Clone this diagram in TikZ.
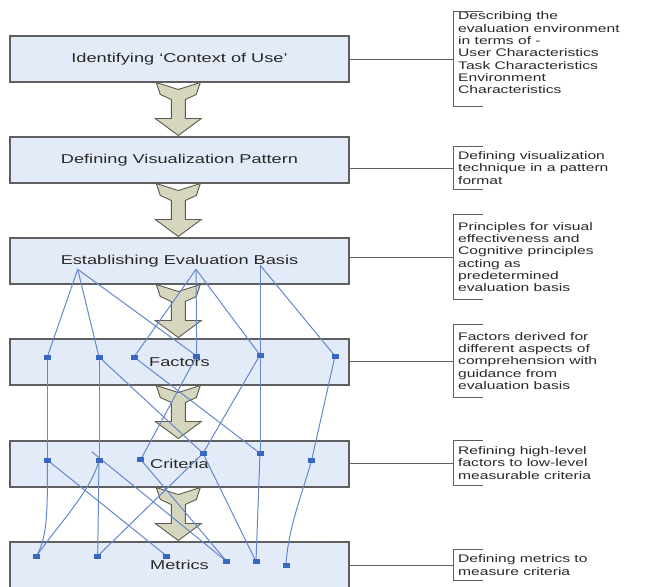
\documentclass[tikz,border=0pt]{standalone}
\usepackage{fontspec}
\setmainfont{Liberation Sans}[FakeStretch=1.42]
\definecolor{boxfill}{RGB}{228,235,248}
\definecolor{boxline}{RGB}{95,95,95}
\definecolor{arrfill}{RGB}{214,214,190}
\definecolor{arrline}{RGB}{90,90,80}
\definecolor{lnblue}{RGB}{100,135,205}
\definecolor{mkblue}{RGB}{55,105,195}
\definecolor{txt}{RGB}{40,40,40}
\tikzset{
  chevarrow/.pic={
    \draw[fill=arrfill,draw=arrline,line width=0.9pt,line join=miter]
      (-22,0) -- (0,7) -- (22,0) -- (18,12) -- (7,17) -- (7,36) -- (23,36)
      -- (0,53) -- (-23,36) -- (-7,36) -- (-7,17) -- (-18,12) -- cycle;
  }
}
\begin{document}
\begin{tikzpicture}[x=1pt,y=-1pt,
  stagebox/.style={draw=boxline,fill=boxfill,line width=1.1pt,
    minimum width=339pt,minimum height=46pt,inner sep=0pt,
    text=txt,font=\fontsize{12.8}{15}\selectfont},
  note/.style={anchor=west,inner xsep=5pt,inner ysep=0pt,align=left,
    text=txt,font=\fontsize{11}{12.3}\selectfont},
  bracketline/.style={draw=boxline,line width=0.9pt},
  lk/.style={draw=lnblue,line width=1pt},
  mk/.style={rectangle,fill=mkblue,minimum width=7pt,minimum height=5pt,inner sep=0pt}]
\useasboundingbox (0,0) rectangle (647,586);
\clip (0,0) rectangle (647,586);

% stage boxes
\node[stagebox] (b1) at (179.5,59)  {Identifying `Context of Use'};
\node[stagebox] (b2) at (179.5,160) {Defining Visualization Pattern};
\node[stagebox] (b3) at (179.5,261) {Establishing Evaluation Basis};
\node[stagebox] (b4) at (179.5,362) {Factors};
\node[stagebox] (b5) at (179.5,464) {Criteria};
\node[stagebox] (b6) at (179.5,565) {Metrics};

% block arrows
\pic at (178.3,82.5)  {chevarrow};
\pic at (178.3,183.5) {chevarrow};
\pic at (178.3,284.5) {chevarrow};
\pic at (178.3,385.5) {chevarrow};
\pic at (178.3,487.5) {chevarrow};

% notes
\node[note,minimum height=94pt] (n1) at (453,59) {Describing the\\evaluation environment\\in terms of -\\User Characteristics\\Task Characteristics\\Environment\\Characteristics\\\mbox{}};
\node[note,minimum height=42pt] (n2) at (453,168) {Defining visualization\\technique in a pattern\\format};
\node[note,minimum height=85pt] (n3) at (453,257) {Principles for visual\\effectiveness and\\Cognitive principles\\acting as\\predetermined\\evaluation basis};
\node[note,minimum height=72pt] (n4) at (453,361) {Factors derived for\\different aspects of\\comprehension with\\guidance from\\evaluation basis};
\node[note,minimum height=44pt] (n5) at (453,463) {Refining high-level\\factors to low-level\\measurable criteria};
\node[note,minimum height=30pt] (n6) at (453,565) {Defining metrics to\\measure criteria};

\foreach \n/\b in {n1/b1,n2/b2,n3/b3,n4/b4,n5/b5,n6/b6}{
  \draw[bracketline] ([xshift=30pt]\n.north west) -- (\n.north west) -- (\n.south west) -- ([xshift=30pt]\n.south west);
  \draw[bracketline] (\b.east |- \n.west) -- (\n.west);
}

% origin points in the evaluation-basis box
\coordinate (a1) at (77.7,269.3);
\coordinate (a2) at (196,269.3);
\coordinate (a3) at (260,265);
\coordinate (x1) at (91.7,451.7);

% markers
\node[mk] (f1) at (47.3,357) {};
\node[mk] (f2) at (99,357) {};
\node[mk] (f3) at (134,357) {};
\node[mk] (f4) at (196.7,356) {};
\node[mk] (f5) at (260,355) {};
\node[mk] (f6) at (335,356) {};
\node[mk] (c1) at (47.3,460) {};
\node[mk] (c2) at (99,460) {};
\node[mk] (c3) at (140.7,459.5) {};
\node[mk] (c4) at (203,453.3) {};
\node[mk] (c5) at (260,453.3) {};
\node[mk] (c6) at (311.7,460) {};
\node[mk] (m1) at (36,556.7) {};
\node[mk] (m2) at (97.7,556) {};
\node[mk] (m3) at (166.7,556) {};
\node[mk] (m4) at (226.7,561.5) {};
\node[mk] (m5) at (256,561.5) {};
\node[mk] (m6) at (286,565) {};

% connectors
\draw[lk] (a1) -- (f1.center);
\draw[lk] (a1) -- (f2.center);
\draw[lk] (a1) -- (f4.center);
\draw[lk] (a2) -- (f3.center);
\draw[lk] (a2) -- (f4.center);
\draw[lk] (a2) -- (f5.center);
\draw[lk] (a3) -- (f5.center);
\draw[lk] (a3) -- (f6.center);

\draw[lk] (f1.center) -- (c1.center);
\draw[lk] (f2.center) -- (c2.center);
\draw[lk] (f2.center) -- (c4.center);
\draw[lk] (f3.center) -- (c5.center);
\draw[lk] (f4.center) -- (c3.center);
\draw[lk] (f5.center) -- (c4.center);
\draw[lk] (f5.center) -- (c5.center);
\draw[lk] (f6.center) -- (c6.center);

\draw[lk] (c1.center) .. controls (48,520) and (46,540) .. (m1.center);
\draw[lk] (c2.center) .. controls (92,490) and (58,525) .. (m1.center);
\draw[lk] (c2.center) -- (m2.center);
\draw[lk] (c1.center) -- (m3.center);
\draw[lk] (x1) -- (m4.center);
\draw[lk] (c3.center) -- (m4.center);
\draw[lk] (c4.center) -- (m2.center);
\draw[lk] (c4.center) -- (m5.center);
\draw[lk] (c5.center) -- (m5.center);
\draw[lk] (c6.center) .. controls (300,500) and (288,530) .. (m6.center);

% redraw markers on top
\foreach \m in {f1,f2,f3,f4,f5,f6,c1,c2,c3,c4,c5,c6,m1,m2,m3,m4,m5,m6}{
  \fill[mkblue] ([xshift=-3.5pt,yshift=-2.5pt]\m.center) rectangle ([xshift=3.5pt,yshift=2.5pt]\m.center);
}
\end{tikzpicture}
\end{document}
